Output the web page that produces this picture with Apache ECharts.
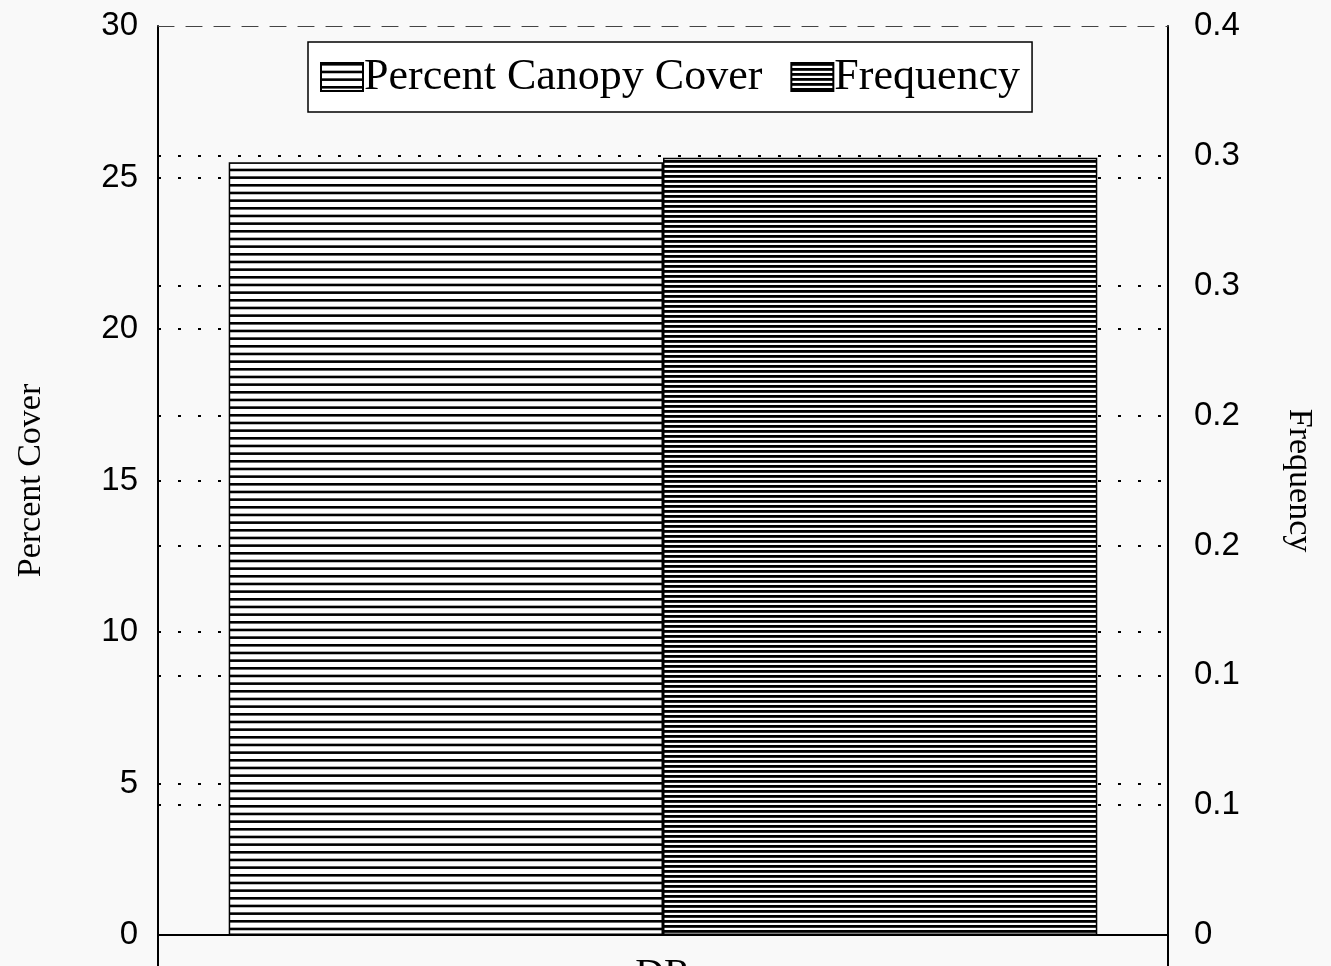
<!DOCTYPE html>
<html>
<head>
<meta charset="utf-8">
<script src="https://cdn.jsdelivr.net/npm/echarts@6/dist/echarts.min.js"></script>
<style>
html,body{margin:0;padding:0;background:#f9f9f9;}
#chart{width:1331px;height:966px;}
</style>
</head>
<body>
<div id="chart"></div>
<script>
// ---- data ----
const categories = ['DR'];
const seriesNames = ['Percent Canopy Cover', 'Frequency'];
const coverValues = [25.5];
const frequencyValues = [0.342];
const leftAxisTitle = 'Percent Cover';
const rightAxisTitle = 'Frequency';

function stripePattern(period, lineH, h) {
  const c = document.createElement('canvas');
  c.width = 8; c.height = h;
  const ctx = c.getContext('2d');
  ctx.fillStyle = '#ffffff';
  ctx.fillRect(0, 0, 8, h);
  ctx.fillStyle = '#000000';
  for (let y = 0; y < h - 0.01; y += period) ctx.fillRect(0, y, 8, lineH);
  return { image: c, repeat: 'repeat' };
}
const coverFill = stripePattern(23 / 3, 2.6, 23);
const freqFill = stripePattern(5, 2.8, 5);

const chart = echarts.init(document.getElementById('chart'));
const serif = 'Liberation Serif';
const sans = 'Liberation Sans';
chart.setOption({
  backgroundColor: '#f9f9f9',
  animation: false,
  legend: {
    left: 308, top: 42,
    padding: [13, 12, 13, 12],
    icon: 'rect',
    itemWidth: 42, itemHeight: 28, itemGap: 28,
    backgroundColor: '#ffffff',
    borderColor: '#000', borderWidth: 1.5,
    textStyle: { fontFamily: serif, fontSize: 44, color: '#000', padding: [0, 0, 0, -4] },
    data: seriesNames
  },
  grid: { left: 158, right: 163, top: 26, bottom: 31, outerBoundsMode: 'none', containLabel: false },
  xAxis: [{
    type: 'category', data: categories,
    axisLine: { lineStyle: { color: '#000', width: 2 } },
    axisTick: { show: true, length: 32, lineStyle: { color: '#000', width: 2 } },
    axisLabel: { fontFamily: serif, fontSize: 40, color: '#000', margin: 20 }
  }, {
    type: 'category', data: categories, position: 'top',
    axisLine: { show: true, onZero: false, lineStyle: { color: '#444', width: 1.2, type: [16, 12] } },
    axisTick: { show: false }, axisLabel: { show: false }
  }],
  yAxis: [{
    type: 'value', min: 0, max: 30, interval: 5,
    name: leftAxisTitle, nameLocation: 'middle', nameRotate: 90, nameGap: 110,
    nameTextStyle: { fontFamily: serif, fontSize: 34, color: '#000' },
    axisLine: { show: true, lineStyle: { color: '#000', width: 2 } },
    axisTick: { show: false },
    axisLabel: { fontFamily: sans, fontSize: 33, color: '#000', margin: 20 },
    splitLine: { show: true, showMinLine: false, showMaxLine: false,
      lineStyle: { color: '#000', width: 2, type: [3, 17] } }
  }, {
    type: 'value', min: 0, max: 0.4, interval: 0.4 / 7,
    name: rightAxisTitle, nameLocation: 'middle', nameRotate: -90, nameGap: 114,
    nameTextStyle: { fontFamily: serif, fontSize: 34, color: '#000' },
    axisLine: { show: true, lineStyle: { color: '#000', width: 2 } },
    axisTick: { show: false },
    axisLabel: { fontFamily: sans, fontSize: 33, color: '#000', margin: 26,
      formatter: v => (Math.round(v * 10) / 10).toString() },
    splitLine: { show: true, showMinLine: false, showMaxLine: false,
      lineStyle: { color: '#000', width: 2, type: [3, 17] } }
  }],
  series: [{
    name: seriesNames[0], type: 'bar', yAxisIndex: 0, data: coverValues,
    barGap: '0%', barCategoryGap: '14%',
    itemStyle: { color: coverFill, borderColor: '#000', borderWidth: 1.5 }
  }, {
    name: seriesNames[1], type: 'bar', yAxisIndex: 1, data: frequencyValues,
    barGap: '0%', barCategoryGap: '14%',
    itemStyle: { color: freqFill, borderColor: '#000', borderWidth: 1.5 }
  }]
});
</script>
</body>
</html>
